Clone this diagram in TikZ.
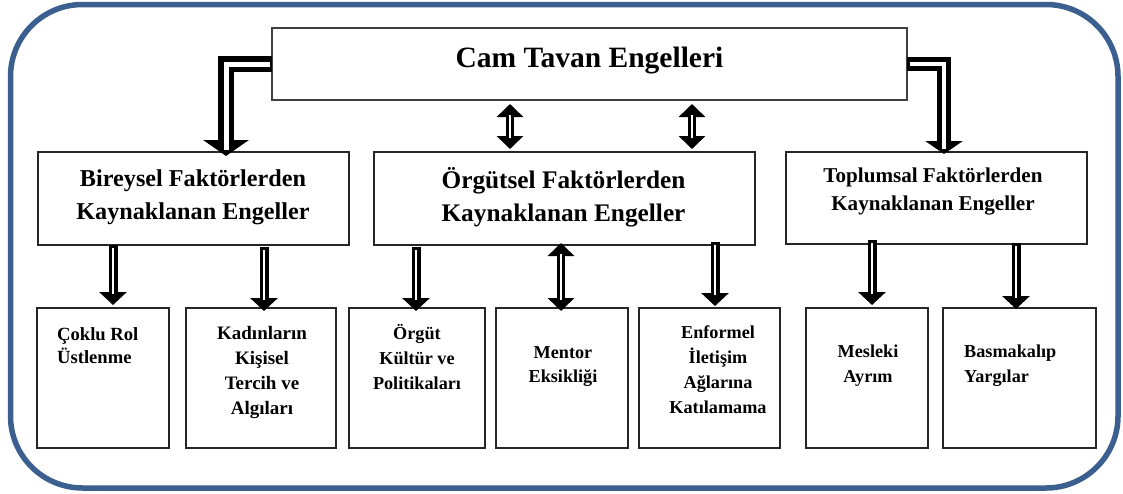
\documentclass[tikz,border=0pt]{standalone}
\usepackage{fontspec}
\setmainfont{Liberation Serif}
\usetikzlibrary{arrows.meta,calc}
\definecolor{framecol}{RGB}{59,95,143}
\begin{document}
\begin{tikzpicture}[x=1pt,y=-1pt,
  box/.style={draw=black!85,line width=1.2pt,anchor=north west,inner sep=0pt,outer sep=0pt},
  lbl/.style={inner sep=0pt,font=\bfseries,align=center},
  bigout/.style={line width=16pt,line join=miter,-{Triangle[width=45pt,length=16pt]}},
  bigin/.style={white,line width=5pt,line join=miter,shorten <=2.5pt,shorten >=6pt},
  midout/.style={line width=14pt,line join=miter,-{Triangle[width=37pt,length=13pt]}},
  midin/.style={white,line width=3.5pt,line join=miter,shorten <=2.5pt,shorten >=5pt},
  arrout/.style={line width=9pt,-{Triangle[width=27pt,length=13pt]}},
  arrin/.style={white,line width=2.5pt,shorten <=2.5pt,shorten >=11pt},
  dblout/.style={line width=8.5pt,{Triangle[width=26pt,length=13pt]}-{Triangle[width=26pt,length=13pt]}},
  dblin/.style={white,line width=2.2pt,shorten <=11pt,shorten >=11pt}
]
\useasboundingbox (0,0) rectangle (1123,493);
\draw[framecol,line width=5.5pt,rounded corners=72pt] (10.5,4.5) rectangle (1118,488);

% boxes
\node[box,draw=black!75,minimum width=635pt,minimum height=72pt] (title) at (272,28) {};
\node[box,minimum width=311pt,minimum height=93pt] (b1) at (38,152) {};
\node[box,minimum width=381pt,minimum height=93pt] (b2) at (374,152) {};
\node[box,minimum width=301pt,minimum height=92pt] (b3) at (786,152) {};
\node[box,minimum width=132pt,minimum height=140pt] (s1) at (37,308) {};
\node[box,minimum width=150pt,minimum height=140pt] (s2) at (186,308) {};
\node[box,minimum width=136pt,minimum height=140pt] (s3) at (349,308) {};
\node[box,minimum width=132pt,minimum height=140pt] (s4) at (496,308) {};
\node[box,minimum width=141pt,minimum height=140pt] (s5) at (639,308) {};
\node[box,minimum width=122pt,minimum height=140pt] (s6) at (806,308) {};
\node[box,minimum width=153pt,minimum height=140pt] (s7) at (943,308) {};

% texts
\node[lbl,anchor=base,font=\bfseries\fontsize{29.5}{32}\selectfont] (tt) at (589.5,67) {Cam Tavan Engelleri};
\node[lbl,font=\bfseries\fontsize{24.2}{33}\selectfont] (t1) at (193,197) {Bireysel Faktörlerden\\Kaynaklanan Engeller};
\node[lbl,font=\bfseries\fontsize{25.3}{33}\selectfont] (t2) at (563.5,197) {Örgütsel Faktörlerden\\Kaynaklanan Engeller};
\node[lbl,font=\bfseries\fontsize{21.1}{28}\selectfont] (t3) at (933,192) {Toplumsal Faktörlerden\\Kaynaklanan Engeller};
\node[lbl,anchor=west,align=left,font=\bfseries\fontsize{18.6}{23}\selectfont] (u1) at (57,346) {Çoklu Rol\\Üstlenme};
\node[lbl,font=\bfseries\fontsize{19}{25}\selectfont] (u2) at (262,372) {Kadınların\\Kişisel\\Tercih ve\\Algıları};
\node[lbl,font=\bfseries\fontsize{18.2}{25}\selectfont] (u3) at (417,357) {Örgüt\\Kültür ve\\Politikaları};
\node[lbl,font=\bfseries\fontsize{18.2}{24}\selectfont] (u4) at (563,367) {Mentor\\Eksikliği};
\node[lbl,font=\bfseries\fontsize{18.2}{25}\selectfont] (u5) at (718,370) {Enformel\\İletişim\\Ağlarına\\Katılamama};
\node[lbl,font=\bfseries\fontsize{18.2}{25}\selectfont] (u6) at (868,366) {Mesleki\\Ayrım};
\node[lbl,anchor=west,align=left,font=\bfseries\fontsize{18.2}{25}\selectfont] (u7) at (964,366) {Basmakalıp\\Yargılar};

% column coordinates
\coordinate (xa) at (226,0);
\coordinate (xb) at (944,0);
\coordinate (xc) at (510,0);
\coordinate (xd) at (692,0);
\coordinate (x1) at (113,0);
\coordinate (x2) at (264,0);
\coordinate (x3) at (416,0);
\coordinate (x4) at (561,0);
\coordinate (x5) at (715,0);
\coordinate (x6) at (872,0);
\coordinate (x7) at (1016,0);

% L-shaped arrows from title
\draw[bigout] (title.west) -| ([yshift=-4pt]b1.north -| xa);
\draw[bigin]  (title.west) -| ([yshift=-4pt]b1.north -| xa);
\draw[midout] (title.east) -| ([yshift=-2pt]b3.north -| xb);
\draw[midin]  (title.east) -| ([yshift=-2pt]b3.north -| xb);

% double arrows title <-> b2
\foreach \c in {xc,xd}{
  \draw[dblout] ([yshift=-4pt]title.south -| \c) -- ([yshift=3pt]b2.north -| \c);
  \draw[dblin]  ([yshift=-4pt]title.south -| \c) -- ([yshift=3pt]b2.north -| \c);
}

% arrows to sub boxes
\draw[arrout] (b1.south -| x1) -- ([yshift=3pt]s1.north -| x1);
\draw[arrin]  (b1.south -| x1) -- ([yshift=3pt]s1.north -| x1);
\draw[arrout] ([yshift=-2pt]b1.south -| x2) -- ([yshift=-3pt]s2.north -| x2);
\draw[arrin]  ([yshift=-2pt]b1.south -| x2) -- ([yshift=-3pt]s2.north -| x2);
\draw[arrout] ([yshift=-2pt]b2.south -| x3) -- ([yshift=-3pt]s3.north -| x3);
\draw[arrin]  ([yshift=-2pt]b2.south -| x3) -- ([yshift=-3pt]s3.north -| x3);
\draw[dblout] ([yshift=2pt]b2.south -| x4) -- ([yshift=-3pt]s4.north -| x4);
\draw[dblin]  ([yshift=2pt]b2.south -| x4) -- ([yshift=-3pt]s4.north -| x4);
\draw[arrout] ([yshift=3pt]b2.south -| x5) -- ([yshift=2pt]s5.north -| x5);
\draw[arrin]  ([yshift=3pt]b2.south -| x5) -- ([yshift=2pt]s5.north -| x5);
\draw[arrout] ([yshift=4pt]b3.south -| x6) -- ([yshift=3pt]s6.north -| x6);
\draw[arrin]  ([yshift=4pt]b3.south -| x6) -- ([yshift=3pt]s6.north -| x6);
\draw[arrout] ([yshift=1pt]b3.south -| x7) -- ([yshift=-1pt]s7.north -| x7);
\draw[arrin]  ([yshift=1pt]b3.south -| x7) -- ([yshift=-1pt]s7.north -| x7);
\end{tikzpicture}
\end{document}
